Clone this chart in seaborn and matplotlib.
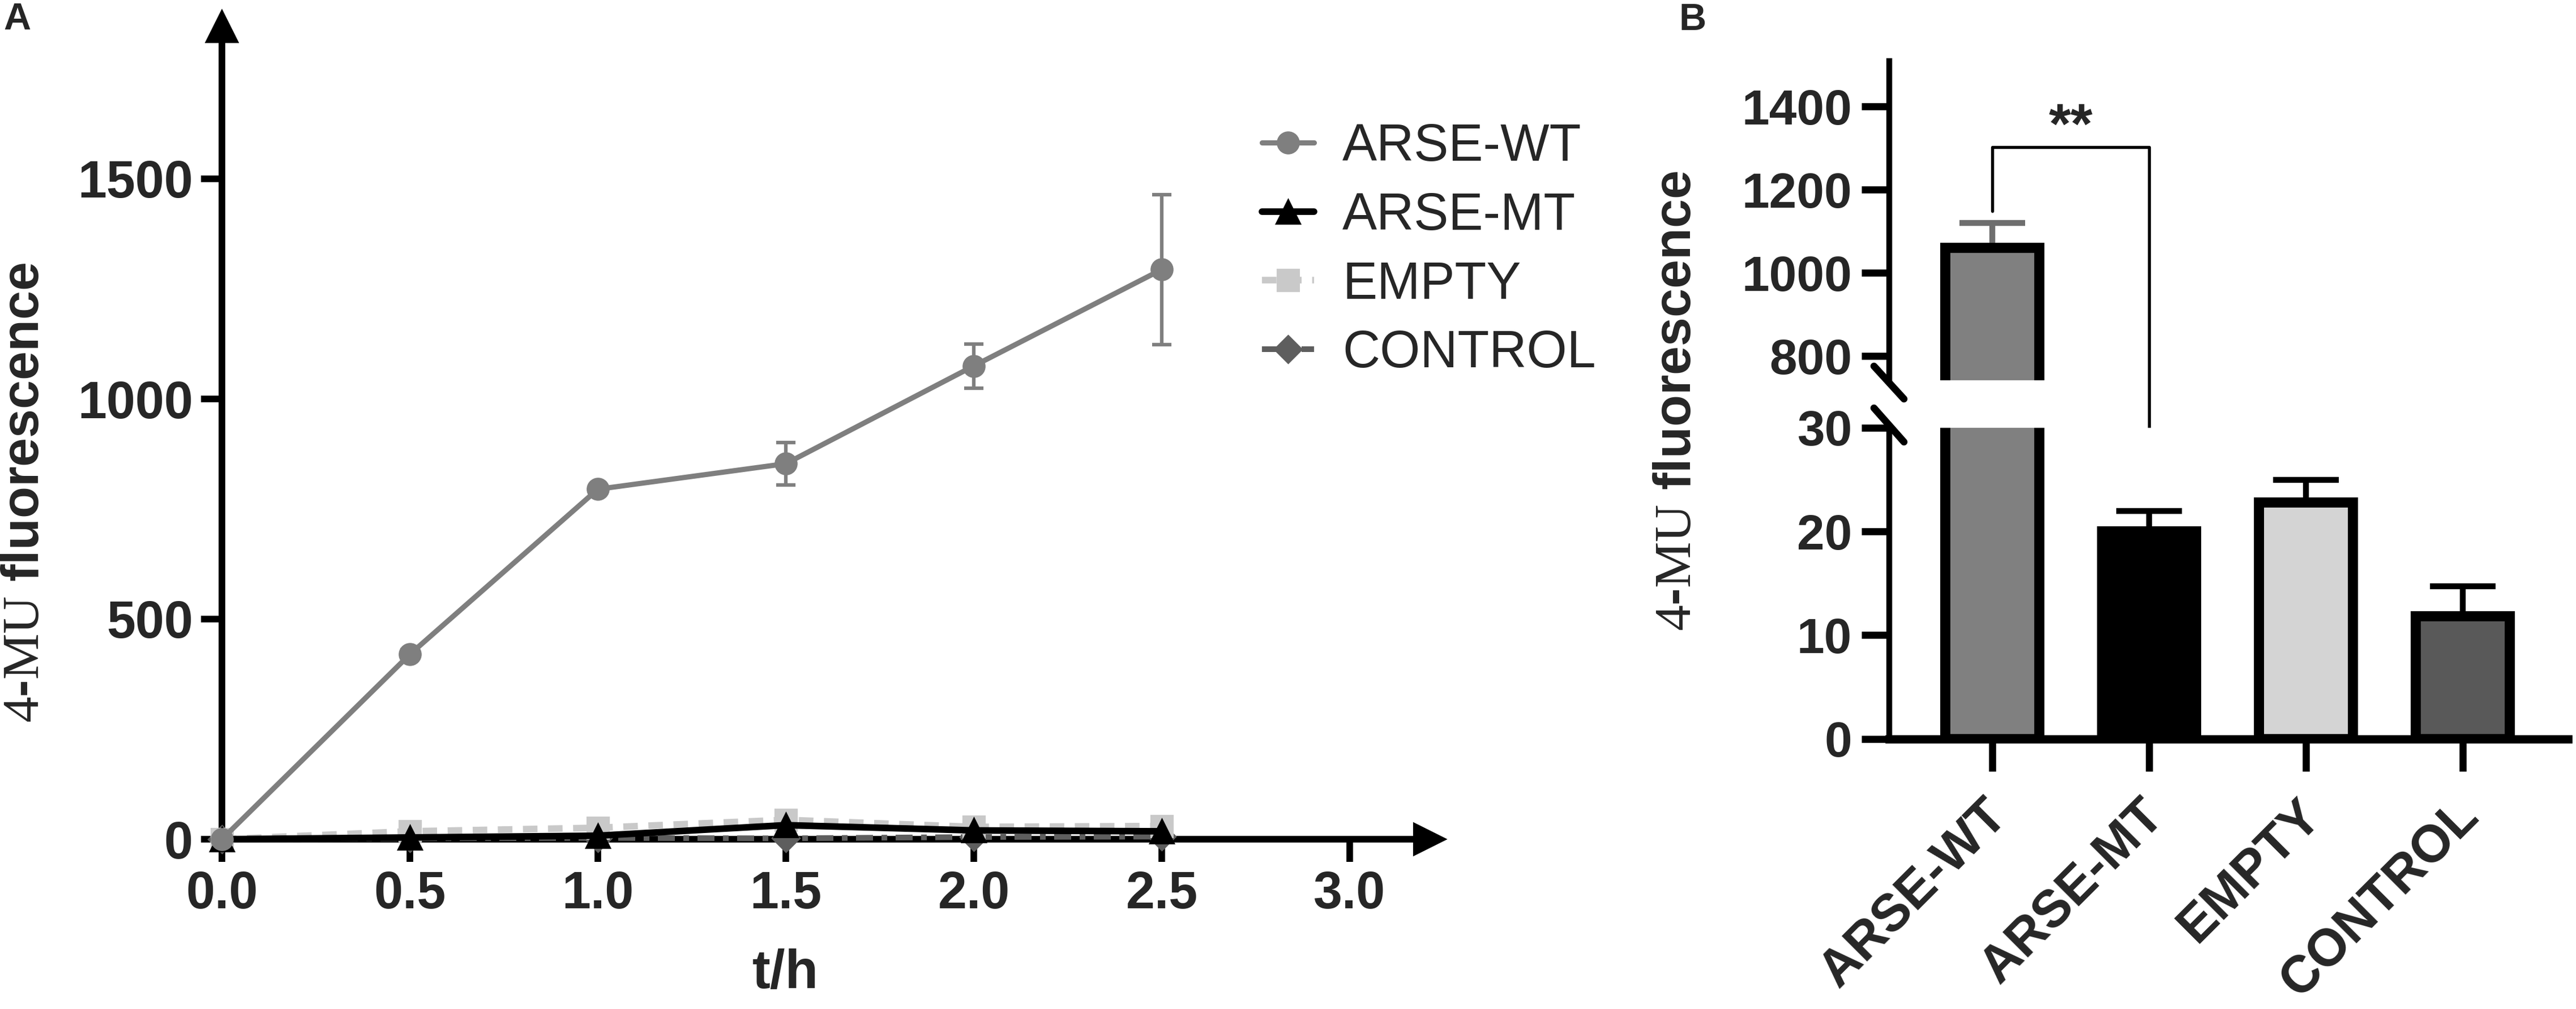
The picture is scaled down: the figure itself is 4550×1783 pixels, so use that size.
import matplotlib
matplotlib.use("Agg")
import matplotlib.pyplot as plt
import matplotlib.transforms as mtransforms
import seaborn as sns
import numpy as np
from matplotlib.lines import Line2D

# --- data: panel A (time course) ---
time_h = [0.0, 0.5, 1.0, 1.5, 2.0, 2.5]
series_names = ["ARSE-WT", "ARSE-MT", "EMPTY", "CONTROL"]
wt_mean = [0, 420, 795, 853, 1075, 1294]
wt_err = [0, 10, 10, 48, 50, 170]
mt_mean = [0, 4, 8, 32, 20, 18]
mt_err = [0, 3, 4, 8, 5, 5]
empty_mean = [0, 18, 26, 44, 28, 30]
empty_err = [0, 8, 12, 14, 10, 12]
control_mean = [0, 2, 3, 2, 5, 6]
control_err = [0, 1, 1, 2, 2, 2]

# --- data: panel B (bars) ---
groups = ["ARSE-WT", "ARSE-MT", "EMPTY", "CONTROL"]
bar_mean = [1060, 20.0, 22.8, 11.8]
bar_err = [60, 2.0, 2.2, 2.9]

W, H = 4550, 1783
DPI = 300

sns.set_theme(style="ticks")
plt.rcParams['font.family'] = ['Liberation Sans', 'DejaVu Sans']
plt.rcParams['mathtext.fontset'] = 'custom'
plt.rcParams['mathtext.rm'] = 'Liberation Serif'
plt.rcParams['axes.edgecolor'] = 'black'


def fx(px):
    return px / W


def fy(py):
    return 1 - py / H


fig = plt.figure(figsize=(W / DPI, H / DPI), dpi=DPI)

# ---------------- panel A ----------------
ax_a = fig.add_axes([fx(392), fy(1483), (2525 - 392) / W, (1483 - 47) / H])

styles = {
    "ARSE-WT": dict(color="#7f7f7f", marker="o", ms=9, lw=2.2, ls="-"),
    "ARSE-MT": dict(color="black", marker="^", ms=10, lw=2.8, ls="-"),
    "EMPTY": dict(color="#c9c9c9", marker="s", ms=9, lw=2.8, ls=(0, (2.2, 1.6))),
    "CONTROL": dict(color="#5e5e5e", marker="D", ms=8, lw=2.4, ls=(0, (3, 1.5, 1, 1.5))),
}
means = {"ARSE-WT": wt_mean, "ARSE-MT": mt_mean, "EMPTY": empty_mean, "CONTROL": control_mean}
errs = {"ARSE-WT": wt_err, "ARSE-MT": mt_err, "EMPTY": empty_err, "CONTROL": control_err}

for name in ["CONTROL", "EMPTY", "ARSE-MT", "ARSE-WT"]:
    st = styles[name]
    ax_a.errorbar(time_h, means[name], yerr=errs[name], fmt="none", ecolor=st["color"],
                  elinewidth=1.5, capsize=4, capthick=1.5, zorder=3, clip_on=False)
    sns.lineplot(x=time_h, y=means[name], ax=ax_a, color=st["color"], marker=st["marker"],
                 markersize=st["ms"], markeredgecolor=st["color"], linewidth=st["lw"],
                 linestyle=st["ls"], label=name, errorbar=None, zorder=4, clip_on=False)

ax_a.set_xlim(0, (2525 - 392) / 664)
ax_a.set_ylim(0, (1483 - 47) / 389 * 500)
xt = [0.0, 0.5, 1.0, 1.5, 2.0, 2.5, 3.0]
ax_a.set_xticks(xt)
ax_a.set_xticklabels([f"{t:.1f}" for t in xt])
ax_a.set_yticks([0, 500, 1000, 1500])
sns.despine(ax=ax_a)
for s in ["left", "bottom"]:
    ax_a.spines[s].set_linewidth(2.8)
ax_a.tick_params(axis="x", length=9.6, width=2.8, labelsize=22, pad=3.6, color="black")
ax_a.tick_params(axis="y", length=8.9, width=2.8, labelsize=22, pad=3.4, color="black")
for lbl in ax_a.get_xticklabels() + ax_a.get_yticklabels():
    lbl.set_fontweight("bold")

# axis arrows
ax_a.plot(1, 0, marker=">", ms=13, color="black", transform=ax_a.get_yaxis_transform(), clip_on=False)
ax_a.plot(0, 1, marker="^", ms=13, color="black", transform=ax_a.get_xaxis_transform(), clip_on=False)

ax_a.set_xlabel("t/h", fontsize=23, fontweight="bold")
ax_a.xaxis.set_label_coords(0.4665, (1483 - 1676) / 1436)
ax_a.set_ylabel("")

handles, labels = ax_a.get_legend_handles_labels()
order = [labels.index(n) for n in series_names]
ax_a.legend([handles[i] for i in order], [labels[i] for i in order], frameon=False, fontsize=22,
            loc="upper left", bbox_to_anchor=(fx(2229), fy(217)), bbox_transform=fig.transFigure,
            borderpad=0, borderaxespad=0, handlelength=1.0, handletextpad=0.55, labelspacing=0.39)

ylab = r"$\mathrm{4}$-$\mathrm{MU}$ fluorescence"
fig.text(fx(87), fy(870), ylab, rotation=90, ha="right", va="center", fontsize=22, fontweight="bold")
fig.text(fx(6), fy(4), "A", ha="left", va="top", fontsize=16, fontweight="bold")

# ---------------- panel B (broken axis) ----------------
ax_up = fig.add_axes([fx(3337), fy(672), (4536 - 3337) / W, (672 - 108) / H])
ax_lo = fig.add_axes([fx(3337), fy(1305.5), (4536 - 3337) / W, (1305.5 - 756) / H])

bar_colors = ["#808080", "#000000", "#d4d4d4", "#595959"]
err_colors = ["#6e6e6e", "black", "black", "black"]
for ax in (ax_up, ax_lo):
    sns.barplot(x=groups, y=bar_mean, hue=groups, palette=bar_colors, legend=False,
                width=0.6, edgecolor="black", linewidth=4.3, saturation=1,
                errorbar=None, ax=ax)
    for i in range(len(groups)):
        ax.errorbar(i, bar_mean[i], yerr=bar_err[i], fmt="none", ecolor=err_colors[i],
                    elinewidth=2.5, capsize=14, capthick=2.5, zorder=0.5)
    ax.set_xlim(-0.657, 3.67)
    ax.set_xlabel("")
    ax.set_ylabel("")
    sns.despine(ax=ax)
    ax.spines["left"].set_linewidth(2.5)
    ax.tick_params(axis="y", length=11.8, width=3, labelsize=21, pad=4, color="black")

ax_up.set_ylim(742, 1509)
ax_up.set_yticks([800, 1000, 1200, 1400])
ax_up.spines["bottom"].set_visible(False)
ax_up.tick_params(axis="x", bottom=False, labelbottom=False)

ax_lo.set_ylim(0, 30)
ax_lo.set_yticks([0, 10, 20, 30])
ax_lo.spines["bottom"].set_linewidth(3.5)
ax_lo.tick_params(axis="x", length=13.6, width=3, labelsize=22, pad=19.8, color="black")
shift = mtransforms.ScaledTranslation(30 / DPI, 0, fig.dpi_scale_trans)
for lbl in ax_lo.get_xticklabels():
    lbl.set_rotation(45)
    lbl.set_ha("right")
    lbl.set_va("baseline")
    lbl.set_rotation_mode("anchor")
    lbl.set_transform(lbl.get_transform() + shift)
for lbl in ax_lo.get_xticklabels() + ax_lo.get_yticklabels() + ax_up.get_yticklabels():
    lbl.set_fontweight("bold")

# significance bracket between ARSE-WT and ARSE-MT, running through the break
y_disp = ax_lo.transData.transform((1, 26.2))[1]
y_low = ax_up.transData.inverted().transform((0, y_disp))[1]
ax_up.plot([0, 0, 1, 1], [1148, 1302, 1302, y_low], color="black", lw=1.3, clip_on=False, zorder=5)
ax_up.text(0.5, 1312, "**", ha="center", va="baseline", fontsize=24, fontweight="bold")

# break marks on the y axis
for (x0, y0, x1, y1) in [(3310, 647, 3363, 705), (3310, 721, 3363, 781)]:
    fig.add_artist(Line2D([fx(x0), fx(x1)], [fy(y0), fy(y1)], color="black", lw=3))

fig.text(fx(3005), fy(708), ylab, rotation=90, ha="right", va="center", fontsize=22, fontweight="bold")
fig.text(fx(2966), fy(5), "B", ha="left", va="top", fontsize=16, fontweight="bold")

fig.savefig("out.png", dpi=DPI)
